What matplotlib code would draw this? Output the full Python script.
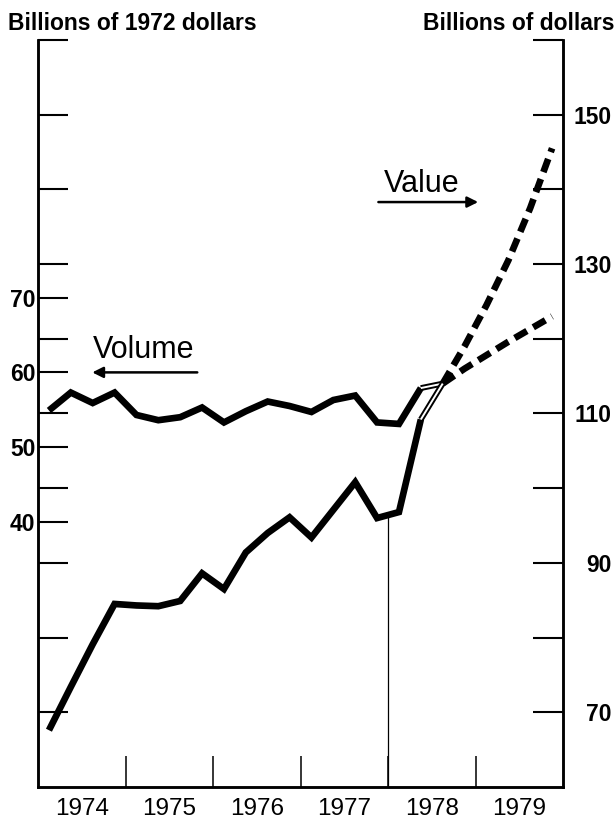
import numpy as np
import matplotlib as mpl
mpl.use("Agg")
import matplotlib.pyplot as plt

plt.rcParams["font.family"] = ["Liberation Sans", "DejaVu Sans"]

# quarterly observations, 1974Q1 .. 1978Q3
QUARTERS = ["1974Q1", "1974Q2", "1974Q3", "1974Q4",
            "1975Q1", "1975Q2", "1975Q3", "1975Q4",
            "1976Q1", "1976Q2", "1976Q3", "1976Q4",
            "1977Q1", "1977Q2", "1977Q3", "1977Q4",
            "1978Q1", "1978Q2", "1978Q3"]
# volume, billions of 1972 dollars (left scale)
VOLUME = [54.9, 57.3, 55.9, 57.3,
          54.3, 53.6, 54.0, 55.3,
          53.3, 54.8, 56.1, 55.5,
          54.7, 56.3, 56.9, 53.3,
          53.1, 57.9, 58.5]
# value, billions of dollars (right scale)
VALUE = [67.6, 73.4, 79.1, 84.5,
         84.3, 84.2, 84.9, 88.6,
         86.5, 91.4, 94.0, 96.1,
         93.4, 97.1, 100.8, 96.0,
         96.8, 109.2, 114.0]
# projections 1978Q3 .. 1979Q4 (right scale)
PROJ_QUARTERS = ["1978Q3", "1978Q4", "1979Q1", "1979Q2", "1979Q3", "1979Q4"]
PROJ_HIGH = [114.0, 119.0, 124.5, 130.5, 137.5, 145.5]
PROJ_LOW = [114.0, 116.0, 117.8, 119.6, 121.3, 123.0]

YEARS = [1974, 1975, 1976, 1977, 1978, 1979]
LEFT_LABELED = [40, 50, 60, 70]
RIGHT_TICKS = [70, 80, 90, 100, 110, 120, 130, 140, 150, 160]
RIGHT_LABELED = [70, 90, 110, 130, 150]
SCALE_OFFSET = 55.5  # left value = right value - offset
MARKER_YEAR = 1978.0


def qpos(q):
    y, n = q.split("Q")
    return int(y) + (int(n) - 0.5) / 4


def main():
    x = np.array([qpos(q) for q in QUARTERS])
    xp = np.array([qpos(q) for q in PROJ_QUARTERS])
    vol = np.array(VOLUME)
    val = np.array(VALUE)

    fig = plt.figure(figsize=(6.15, 8.19), dpi=100)
    axL = fig.add_axes([0.0618, 0.0391, 0.8537, 0.9121])
    axR = axL.twinx()

    axR.set_ylim(60, 160)
    axL.set_ylim(60 - SCALE_OFFSET, 160 - SCALE_OFFSET)
    axL.set_xlim(1974, 1980)

    lw = 4.8
    # volume (left)
    axL.plot(x[:-1], vol[:-1], color="black", lw=lw, solid_joinstyle="miter", solid_capstyle="butt", zorder=3)
    axL.plot(x[-2:], vol[-2:], color="black", lw=4.2, solid_capstyle="butt", zorder=3)
    axL.plot(x[-2:], vol[-2:], color="white", lw=1.4, solid_capstyle="butt", zorder=4)

    # value (right)
    axR.plot(x[:-1], val[:-1], color="black", lw=lw, solid_joinstyle="miter", solid_capstyle="butt", zorder=3)
    axR.plot(x[-2:], val[-2:], color="black", lw=4.2, solid_capstyle="butt", zorder=3)
    axR.plot(x[-2:], val[-2:], color="white", lw=1.4, solid_capstyle="butt", zorder=4)
    for proj in (PROJ_HIGH, PROJ_LOW):
        ln, = axR.plot(xp, proj, color="black", lw=lw, dash_capstyle="butt", zorder=3)
        ln.set_dashes((2.1, 1.1))

    top = np.interp(MARKER_YEAR, x, val)
    axR.vlines(MARKER_YEAR, 60, top, color="black", lw=0.9, zorder=2)

    # spines
    for ax in (axL, axR):
        ax.spines["top"].set_visible(False)
        for s in ("left", "right", "bottom"):
            ax.spines[s].set_linewidth(1.8)

    tick_len = 21.6
    # x axis
    axL.set_xticks([y + 1 for y in YEARS[:-1]])
    axL.set_xticklabels([])
    axL.set_xticks([y + 0.5 for y in YEARS], minor=True)
    axL.set_xticklabels([str(y) for y in YEARS], minor=True)
    axL.tick_params(axis="x", which="major", direction="in", length=22.3, width=1.1)
    axL.tick_params(axis="x", which="minor", length=0, pad=8, labelsize=17.5)

    # left axis
    axL.set_yticks(LEFT_LABELED)
    axL.set_yticklabels([str(v) for v in LEFT_LABELED], fontweight="bold")
    axL.set_yticks([v - SCALE_OFFSET for v in RIGHT_TICKS], minor=True)
    axL.tick_params(axis="y", which="both", direction="in", length=tick_len, width=1.5,
                    labelsize=16.5, pad=2)

    # right axis
    axR.set_yticks(RIGHT_TICKS)
    axR.set_yticklabels([str(v) if v in RIGHT_LABELED else "" for v in RIGHT_TICKS], fontweight="bold")
    axR.tick_params(axis="y", direction="in", length=tick_len, width=1.5, labelsize=16.5, pad=35)
    for lab in axR.get_yticklabels():
        lab.set_horizontalalignment("right")

    # annotations
    axL.text(1975.21, 61.9, "Volume", fontsize=22, ha="center", va="baseline")
    axL.annotate("", xy=(1974.62, 60.0), xytext=(1975.82, 60.0),
                 arrowprops=dict(arrowstyle="-|>", lw=1.8, color="black", mutation_scale=16,
                                 shrinkA=0, shrinkB=0))
    axR.text(1978.39, 139.7, "Value", fontsize=22, ha="center", va="baseline")
    axR.annotate("", xy=(1979.03, 138.3), xytext=(1977.89, 138.3),
                 arrowprops=dict(arrowstyle="-|>", lw=1.8, color="black", mutation_scale=16,
                                 shrinkA=0, shrinkB=0))

    fig.text(0.013, 0.9634, "Billions of 1972 dollars", fontsize=16.5, fontweight="bold",
             ha="left", va="baseline")
    fig.text(0.999, 0.9634, "Billions of dollars", fontsize=16.5, fontweight="bold",
             ha="right", va="baseline")

    fig.savefig("out.png", dpi=100)
    plt.close(fig)


if __name__ == "__main__":
    main()
